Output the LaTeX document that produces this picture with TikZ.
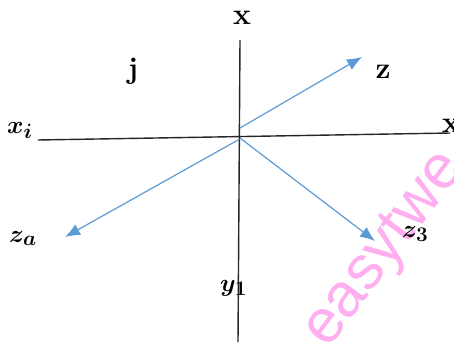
\documentclass[tikz,border=0pt]{standalone}
\usepackage{amsmath,bm}
\usepackage{fontspec}
\newfontfamily\wmfont{Liberation Sans}
\usetikzlibrary{arrows.meta}
\definecolor{arrowblue}{RGB}{91,155,213}
\definecolor{wmpink}{RGB}{255,175,240}
\begin{document}
\begin{tikzpicture}[x=1pt,y=-1pt,
  axis/.style={draw=black!85,line width=1.4pt},
  vec/.style={draw=arrowblue,line width=1.2pt,-{Latex[length=15pt,width=12pt]}},
  lbl/.style={inner sep=0pt,font=\fontsize{30}{34}\selectfont\bfseries\boldmath}]
\useasboundingbox (0,0) rectangle (454,342);
\clip (0,0) rectangle (454,342);
\node[font=\wmfont\fontsize{62}{62}\selectfont,text=wmpink,rotate=53,inner sep=0pt,anchor=base west] (wm) at (328,350) {easytwe};
\coordinate (vtop) at (240,40);
\coordinate (vbot) at (238,342);
\coordinate (hl) at (38,140);
\coordinate (hr) at (450,133);
\coordinate (o1) at (240,128);
\coordinate (o2) at (238,140);
\coordinate (o3) at (240,138);
\coordinate (tz) at (362,57);
\coordinate (tza) at (65,237);
\coordinate (tz3) at (375,241);
\draw[axis] (vtop) -- (vbot);
\draw[axis] (hl) -- (hr);
\draw[vec] (o1) -- (tz);
\draw[vec] (o2) -- (tza);
\draw[vec] (o3) -- (tz3);
\node[lbl,anchor=base] (xtop) at (242,25) {x};
\node[lbl,anchor=base] (j) at (133,79) {j};
\node[lbl,anchor=base] (z) at (383,78) {z};
\node[lbl,anchor=base west] (xi) at (7,133) {$x_i$};
\node[lbl,anchor=base west] (xr) at (442,132) {x};
\node[lbl,anchor=base west] (za) at (9,242) {$z_a$};
\node[lbl,anchor=base west] (z3) at (402,237) {$z_3$};
\node[lbl,anchor=base west] (y1) at (220,291) {$y_1$};
\end{tikzpicture}
\end{document}
